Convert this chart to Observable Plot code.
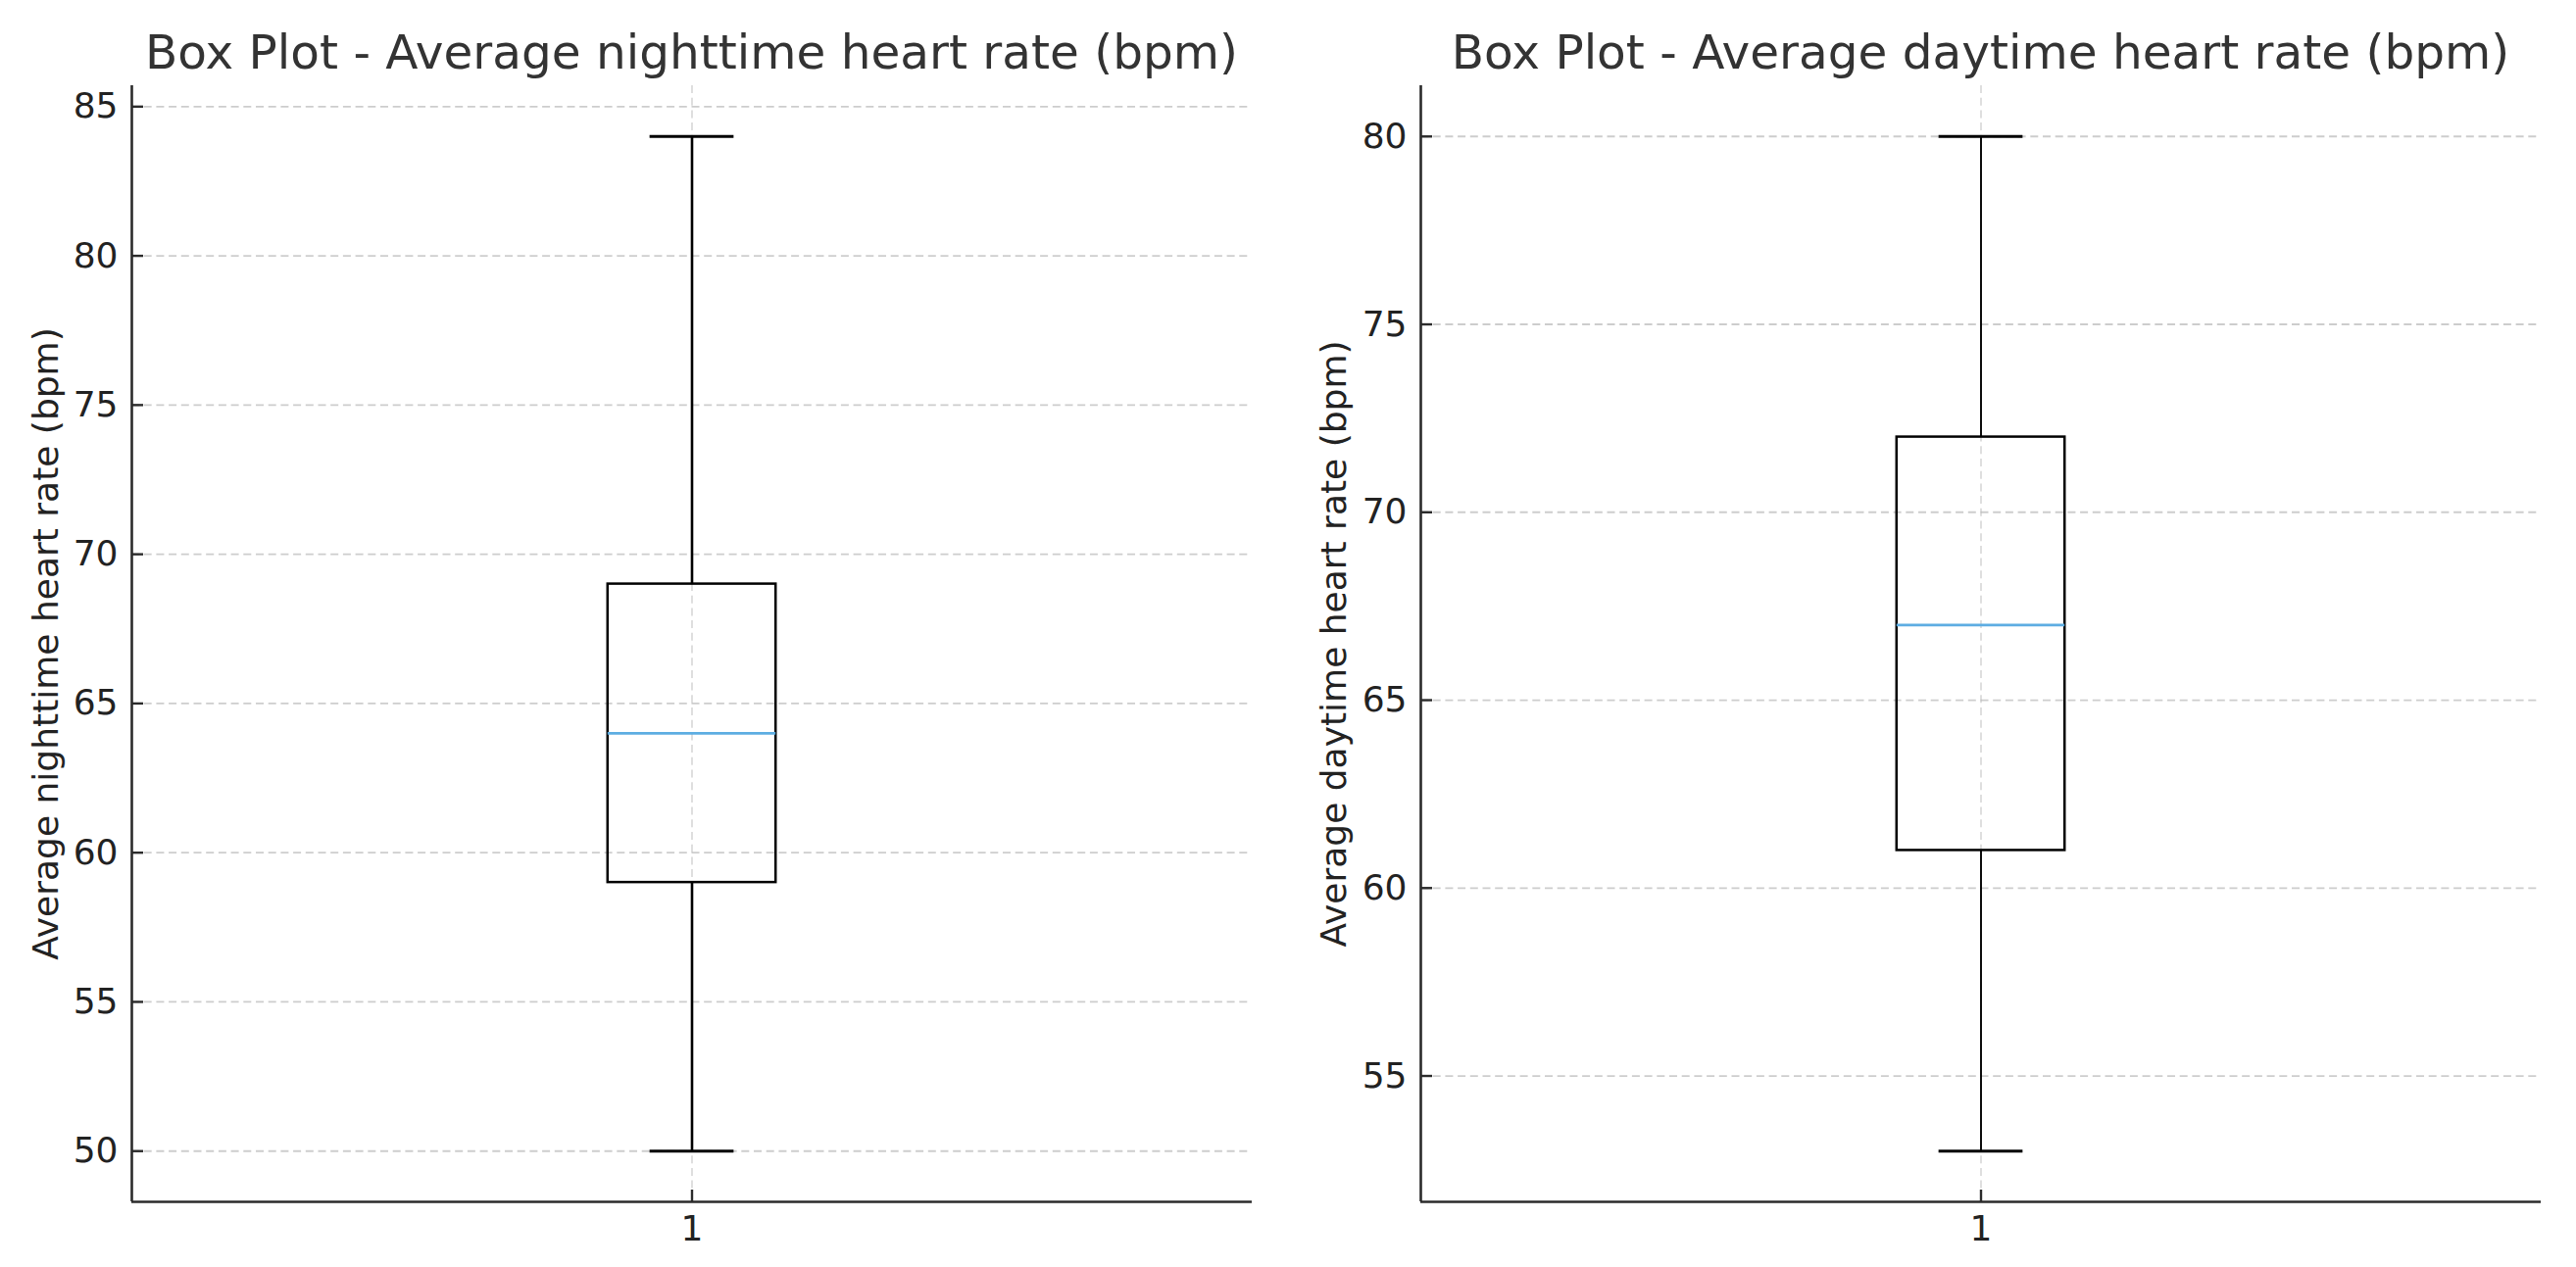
<!DOCTYPE html>
<html>
<head>
<meta charset="utf-8">
<script src="https://cdn.jsdelivr.net/npm/d3@7"></script>
<script src="https://cdn.jsdelivr.net/npm/@observablehq/plot@0.6"></script>
<style>
  html, body { margin: 0; padding: 0; background: #fff; }
  #wrap { display: flex; width: 2628px; height: 1293px; }
  .panel { width: 1314px; height: 1293px; position: relative; }
  .title {
    position: absolute; top: 0; height: 80px;
    font-family: "DejaVu Sans", sans-serif; font-size: 48.5px; color: #333;
    text-align: center; line-height: 1; padding-top: 29px; box-sizing: border-box;
    white-space: nowrap;
  }
  svg { position: absolute; top: 80px; left: 0; }
</style>
</head>
<body>
<div id="wrap"></div>
<script>
// ---- data ----
const titles = ["Box Plot - Average nighttime heart rate (bpm)", "Box Plot - Average daytime heart rate (bpm)"];
const yLabels = ["Average nighttime heart rate (bpm)", "Average daytime heart rate (bpm)"];
const positions = [1];
const mins    = [50, 53];
const q1s     = [59, 61];
const medians = [64, 67];
const q3s     = [69, 72];
const maxs    = [84, 80];
const yTicksList = [[50, 55, 60, 65, 70, 75, 80, 85], [55, 60, 65, 70, 75, 80]];
const xTicks = [1];
const boxWidth = 0.15;

const W = 1314, H = 1213;
const wrap = document.getElementById("wrap");

for (let i = 0; i < 2; i++) {
  const stats = [{pos: positions[0], min: mins[i], q1: q1s[i], med: medians[i], q3: q3s[i], max: maxs[i]}];
  const span = maxs[i] - mins[i];
  const yDomain = [mins[i] - 0.05 * span, maxs[i] + 0.05 * span];
  const xDomain = [positions[0] - 0.5, positions[0] + 0.5];
  const mL = i === 0 ? 134 : 135, mR = W - (i === 0 ? 1277 : 1278);

  const box = stats.map(d => ({...d, x1: d.pos - boxWidth / 2, x2: d.pos + boxWidth / 2, c1: d.pos - boxWidth / 4, c2: d.pos + boxWidth / 4}));
  const whiskerW = i === 0 ? 2.6 : 1.9;

  const svg = Plot.plot({
    width: W, height: H,
    marginLeft: mL, marginRight: mR, marginTop: 7, marginBottom: 67,
    style: {fontFamily: "DejaVu Sans, sans-serif", fontSize: "36px", color: "#222", background: "transparent", overflow: "visible"},
    x: {domain: xDomain, ticks: xTicks, tickFormat: d3.format("d")},
    y: {domain: yDomain, ticks: yTicksList[i], tickFormat: d3.format("d")},
    marks: [
      Plot.gridY(yTicksList[i], {stroke: "#b8b8b8", strokeOpacity: 0.7, strokeWidth: 1.8, strokeDasharray: "8,4.7"}),
      Plot.gridX(xTicks, {stroke: "#b8b8b8", strokeOpacity: 0.5, strokeWidth: 1.8, strokeDasharray: "8,4.7"}),
      // whiskers
      Plot.ruleX(box, {x: "pos", y1: "q3", y2: "max", stroke: "#000", strokeWidth: whiskerW}),
      Plot.ruleX(box, {x: "pos", y1: "min", y2: "q1", stroke: "#000", strokeWidth: whiskerW}),
      // caps
      Plot.ruleY(box, {y: "max", x1: "c1", x2: "c2", stroke: "#000", strokeWidth: 2.8}),
      Plot.ruleY(box, {y: "min", x1: "c1", x2: "c2", stroke: "#000", strokeWidth: 2.8}),
      // box
      Plot.rect(box, {x1: "x1", x2: "x2", y1: "q1", y2: "q3", fill: "none", stroke: "#000", strokeWidth: 2.5}),
      // median
      Plot.ruleY(box, {y: "med", x1: "x1", x2: "x2", stroke: "#5dade2", strokeWidth: 2.8}),
      // spines
      Plot.ruleX([xDomain[0]], {stroke: "#2b2b2b", strokeWidth: 2.6}),
      Plot.ruleY([yDomain[0]], {stroke: "#2b2b2b", strokeWidth: 2.6}),
      Plot.axisY(yTicksList[i], {tickSize: -12, tickPadding: 26, strokeWidth: 2.4, stroke: "#2b2b2b", fill: "#222", label: null, tickFormat: d3.format("d")}),
      Plot.axisX(xTicks, {tickSize: -12, tickPadding: 26, strokeWidth: 2.4, stroke: "#2b2b2b", fill: "#222", label: null, tickFormat: d3.format("d")}),
      Plot.text([yLabels[i]], {text: d => d, frameAnchor: "left", textAnchor: "middle", dx: -(mL - 47), rotate: -90, fill: "#222", fontSize: 36})
    ]
  });

  const panel = document.createElement("div");
  panel.className = "panel";
  const t = document.createElement("div");
  t.className = "title";
  t.textContent = titles[i];
  t.style.left = mL + "px";
  t.style.width = (W - mL - mR) + "px";
  panel.appendChild(t);
  panel.appendChild(svg);
  wrap.appendChild(panel);
}
</script>
</body>
</html>
